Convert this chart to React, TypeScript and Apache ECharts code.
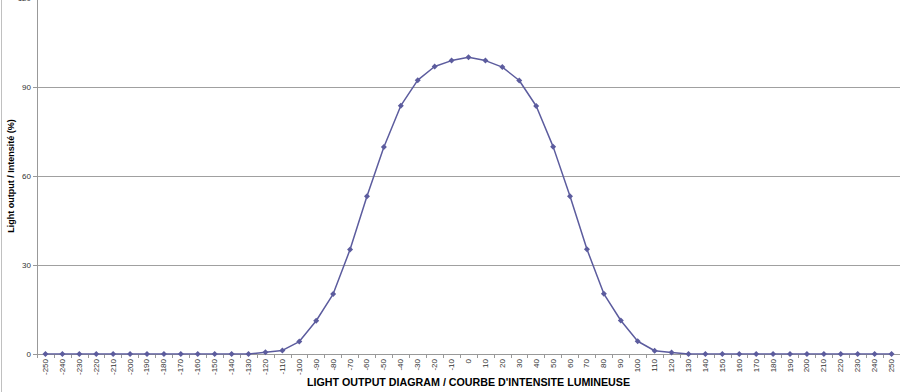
import React, { useEffect, useRef } from "react";
import * as echarts from "echarts";

const categories = [
  "-250", "-240", "-230", "-220", "-210", "-200", "-190", "-180", "-170", "-160",
  "-150", "-140", "-130", "-120", "-110", "-100", "-90", "-80", "-70", "-60",
  "-50", "-40", "-30", "-20", "-10", "0", "10", "20", "30", "40",
  "50", "60", "70", "80", "90", "100", "110", "120", "130", "140",
  "150", "160", "170", "180", "190", "200", "210", "220", "230", "240", "250",
];

const intensity = [
  0, 0, 0, 0, 0, 0, 0, 0, 0, 0,
  0, 0, 0, 0.6, 1.2, 4.2, 11.2, 20.2, 35.2, 53.2,
  69.8, 83.7, 92.3, 96.9, 98.9, 100, 98.9, 96.7, 92.2, 83.6,
  69.9, 53.2, 35.3, 20.3, 11.3, 4.3, 1.1, 0.5, 0, 0,
  0, 0, 0, 0, 0, 0, 0, 0, 0, 0, 0,
];

const yMin = 0;
const yMax = 120;
const yInterval = 30;

export default function App() {
  const ref = useRef<HTMLDivElement>(null);
  useEffect(() => {
    if (!ref.current) return;
    const chart = echarts.init(ref.current, null, { renderer: "svg" });
    chart.setOption({
      animation: false,
      backgroundColor: "#ffffff",
      textStyle: { fontFamily: "Liberation Sans, Arial, sans-serif" },
      grid: {
        left: 37,
        right: 0,
        top: -2,
        bottom: 38,
        containLabel: false,
        outerBoundsMode: "none",
      },
      xAxis: {
        type: "category",
        data: categories,
        boundaryGap: true,
        name: "LIGHT OUTPUT DIAGRAM / COURBE D'INTENSITE LUMINEUSE",
        nameLocation: "middle",
        nameGap: 22,
        nameMoveOverlap: false,
        nameTextStyle: { fontSize: 10.7, fontWeight: "bold", color: "#000" },
        axisLine: { lineStyle: { color: "#999", width: 1 } },
        axisTick: { show: true, interval: 0, length: 4, lineStyle: { color: "#999" } },
        axisLabel: { interval: 0, rotate: 90, fontSize: 8, color: "#333", margin: 5 },
        splitLine: { show: false },
      },
      yAxis: {
        type: "value",
        min: yMin,
        max: yMax,
        interval: yInterval,
        name: "Light output / Intensité (%)",
        nameLocation: "middle",
        nameGap: 22,
        nameMoveOverlap: false,
        nameTextStyle: { fontSize: 9, fontWeight: "bold", color: "#000" },
        axisLine: { show: true, lineStyle: { color: "#999", width: 1 } },
        axisTick: { show: true, length: 4, lineStyle: { color: "#999" } },
        axisLabel: { fontSize: 8, color: "#333", margin: 6 },
        splitLine: { show: true, lineStyle: { color: "#a0a0a0", width: 1 } },
      },
      series: [
        {
          type: "line",
          data: intensity,
          symbol: "diamond",
          symbolSize: 6,
          showSymbol: true,
          lineStyle: { color: "#5c5c9e", width: 1.5 },
          itemStyle: { color: "#5c5c9e" },
        },
      ],
      graphic: [
        {
          type: "line",
          shape: { x1: 1.5, y1: 0, x2: 1.5, y2: 392 },
          style: { stroke: "#c0c0c0", lineWidth: 1 },
        },
      ],
    });
    return () => chart.dispose();
  }, []);
  return (
    <div
      ref={ref}
      style={{ position: "absolute", left: 0, top: 0, width: 900, height: 392 }}
    />
  );
}
